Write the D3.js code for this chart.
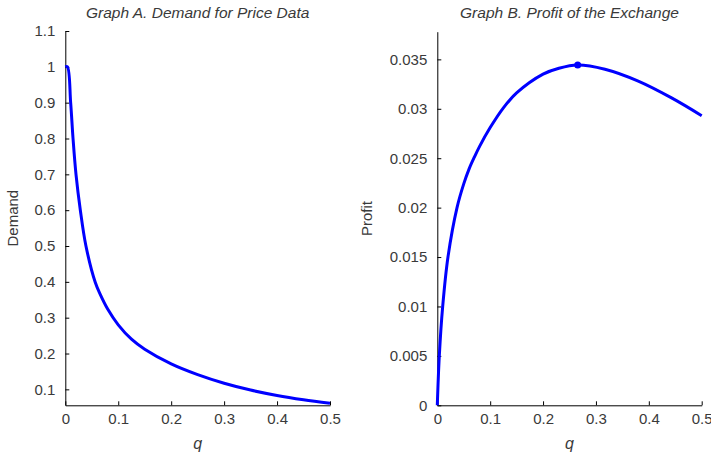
<!DOCTYPE html>
<html>
<head>
<meta charset="utf-8">
<script src="https://cdn.jsdelivr.net/npm/d3@7"></script>
<style>
  body { margin: 0; background: #fff; }
  svg { display: block; font-family: "Liberation Sans", Arial, sans-serif; }
  .tick text { fill: #3a3a3a; font-size: 15px; }
  .domain, .tick line { stroke: #000; }
</style>
</head>
<body>
<svg id="chart" width="711" height="456"></svg>
<script>
// Graph A: demand
const demandQ = [0, 0.004, 0.0101, 0.0146, 0.0202, 0.0284, 0.039, 0.0567, 0.066, 0.08, 0.1, 0.125, 0.15, 0.2, 0.25, 0.3, 0.35, 0.4, 0.45, 0.5];
const demandV = [1, 1, 0.9, 0.8, 0.7, 0.6, 0.5, 0.398, 0.365, 0.324, 0.28, 0.24, 0.212, 0.171, 0.141, 0.117, 0.098, 0.083, 0.071, 0.061];

// Graph B: profit of the exchange
const profitQ = [0, 0.0038, 0.0102, 0.0202, 0.0373, 0.05, 0.06, 0.07, 0.08, 0.1, 0.125, 0.15, 0.2, 0.23, 0.2655, 0.317, 0.38, 0.443, 0.5];
const profitV = [0, 0.005, 0.01, 0.015, 0.02, 0.0224, 0.0239, 0.0251, 0.0262, 0.0281, 0.0301, 0.0316, 0.0335, 0.0341, 0.03443, 0.0340, 0.0328, 0.0311, 0.0293];
const peakQ = 0.2655, peakV = 0.03443;

const xTicks = [0, 0.1, 0.2, 0.3, 0.4, 0.5];
const xTickLabels = ["0", "0.1", "0.2", "0.3", "0.4", "0.5"];
const demandTicks = [0.1, 0.2, 0.3, 0.4, 0.5, 0.6, 0.7, 0.8, 0.9, 1, 1.1];
const demandTickLabels = ["0.1", "0.2", "0.3", "0.4", "0.5", "0.6", "0.7", "0.8", "0.9", "1", "1.1"];
const profitTicks = [0, 0.005, 0.01, 0.015, 0.02, 0.025, 0.03, 0.035];
const profitTickLabels = ["0", "0.005", "0.01", "0.015", "0.02", "0.025", "0.03", "0.035"];

const svg = d3.select("#chart");

function panel(opt) {
  const x = d3.scaleLinear().domain([0, 0.5]).range([opt.left, opt.right]);
  const y = d3.scaleLinear().domain(opt.yDomain).range([opt.bottom, opt.top]);
  const g = svg.append("g");

  g.append("g")
    .attr("transform", `translate(0,${opt.bottom})`)
    .call(d3.axisBottom(x).tickValues(xTicks)
      .tickFormat((d, i) => xTickLabels[i])
      .tickSizeInner(-4).tickSizeOuter(0).tickPadding(8));

  g.append("g")
    .attr("transform", `translate(${opt.left},0)`)
    .call(d3.axisLeft(y).tickValues(opt.yTicks)
      .tickFormat((d, i) => opt.yTickLabels[i])
      .tickSizeInner(-4).tickSizeOuter(0).tickPadding(10));

  const pts = opt.qs.map((q, i) => [q, opt.vs[i]]);
  const line = d3.line()
    .x(d => x(d[0]))
    .y(d => y(d[1]))
    .curve(d3.curveCatmullRom.alpha(0.5));

  g.append("path")
    .datum(pts)
    .attr("fill", "none")
    .attr("stroke", "#0000ff")
    .attr("stroke-width", 3)
    .attr("stroke-linejoin", "round")
    .attr("d", line);

  g.append("text")
    .attr("x", (opt.left + opt.right) / 2)
    .attr("y", 18)
    .attr("text-anchor", "middle")
    .attr("font-style", "italic")
    .attr("font-size", 15.5)
    .attr("fill", "#3a3a3a")
    .text(opt.title);

  g.append("text")
    .attr("x", (opt.left + opt.right) / 2)
    .attr("y", 449)
    .attr("text-anchor", "middle")
    .attr("font-style", "italic")
    .attr("font-size", 16)
    .attr("fill", "#3a3a3a")
    .text("q");

  g.append("text")
    .attr("transform", `translate(${opt.ylabelX},${(opt.top + opt.bottom) / 2}) rotate(-90)`)
    .attr("text-anchor", "middle")
    .attr("font-size", 15)
    .attr("fill", "#3a3a3a")
    .text(opt.ylabel);

  return { g, x, y };
}

panel({
  left: 65.3, right: 330, top: 31, bottom: 405.3,
  yDomain: [0.0555, 1.1],
  yTicks: demandTicks, yTickLabels: demandTickLabels,
  qs: demandQ, vs: demandV,
  title: "Graph A. Demand for Price Data",
  ylabel: "Demand", ylabelX: 18
});

const b = panel({
  left: 437.3, right: 701.7, top: 31.7, bottom: 405.3,
  yDomain: [0, 0.0378],
  yTicks: profitTicks, yTickLabels: profitTickLabels,
  qs: profitQ, vs: profitV,
  title: "Graph B. Profit of the Exchange",
  ylabel: "Profit", ylabelX: 372
});

b.g.append("circle")
  .attr("cx", b.x(peakQ))
  .attr("cy", b.y(peakV))
  .attr("r", 3.5)
  .attr("fill", "#0000ff");
</script>
</body>
</html>
